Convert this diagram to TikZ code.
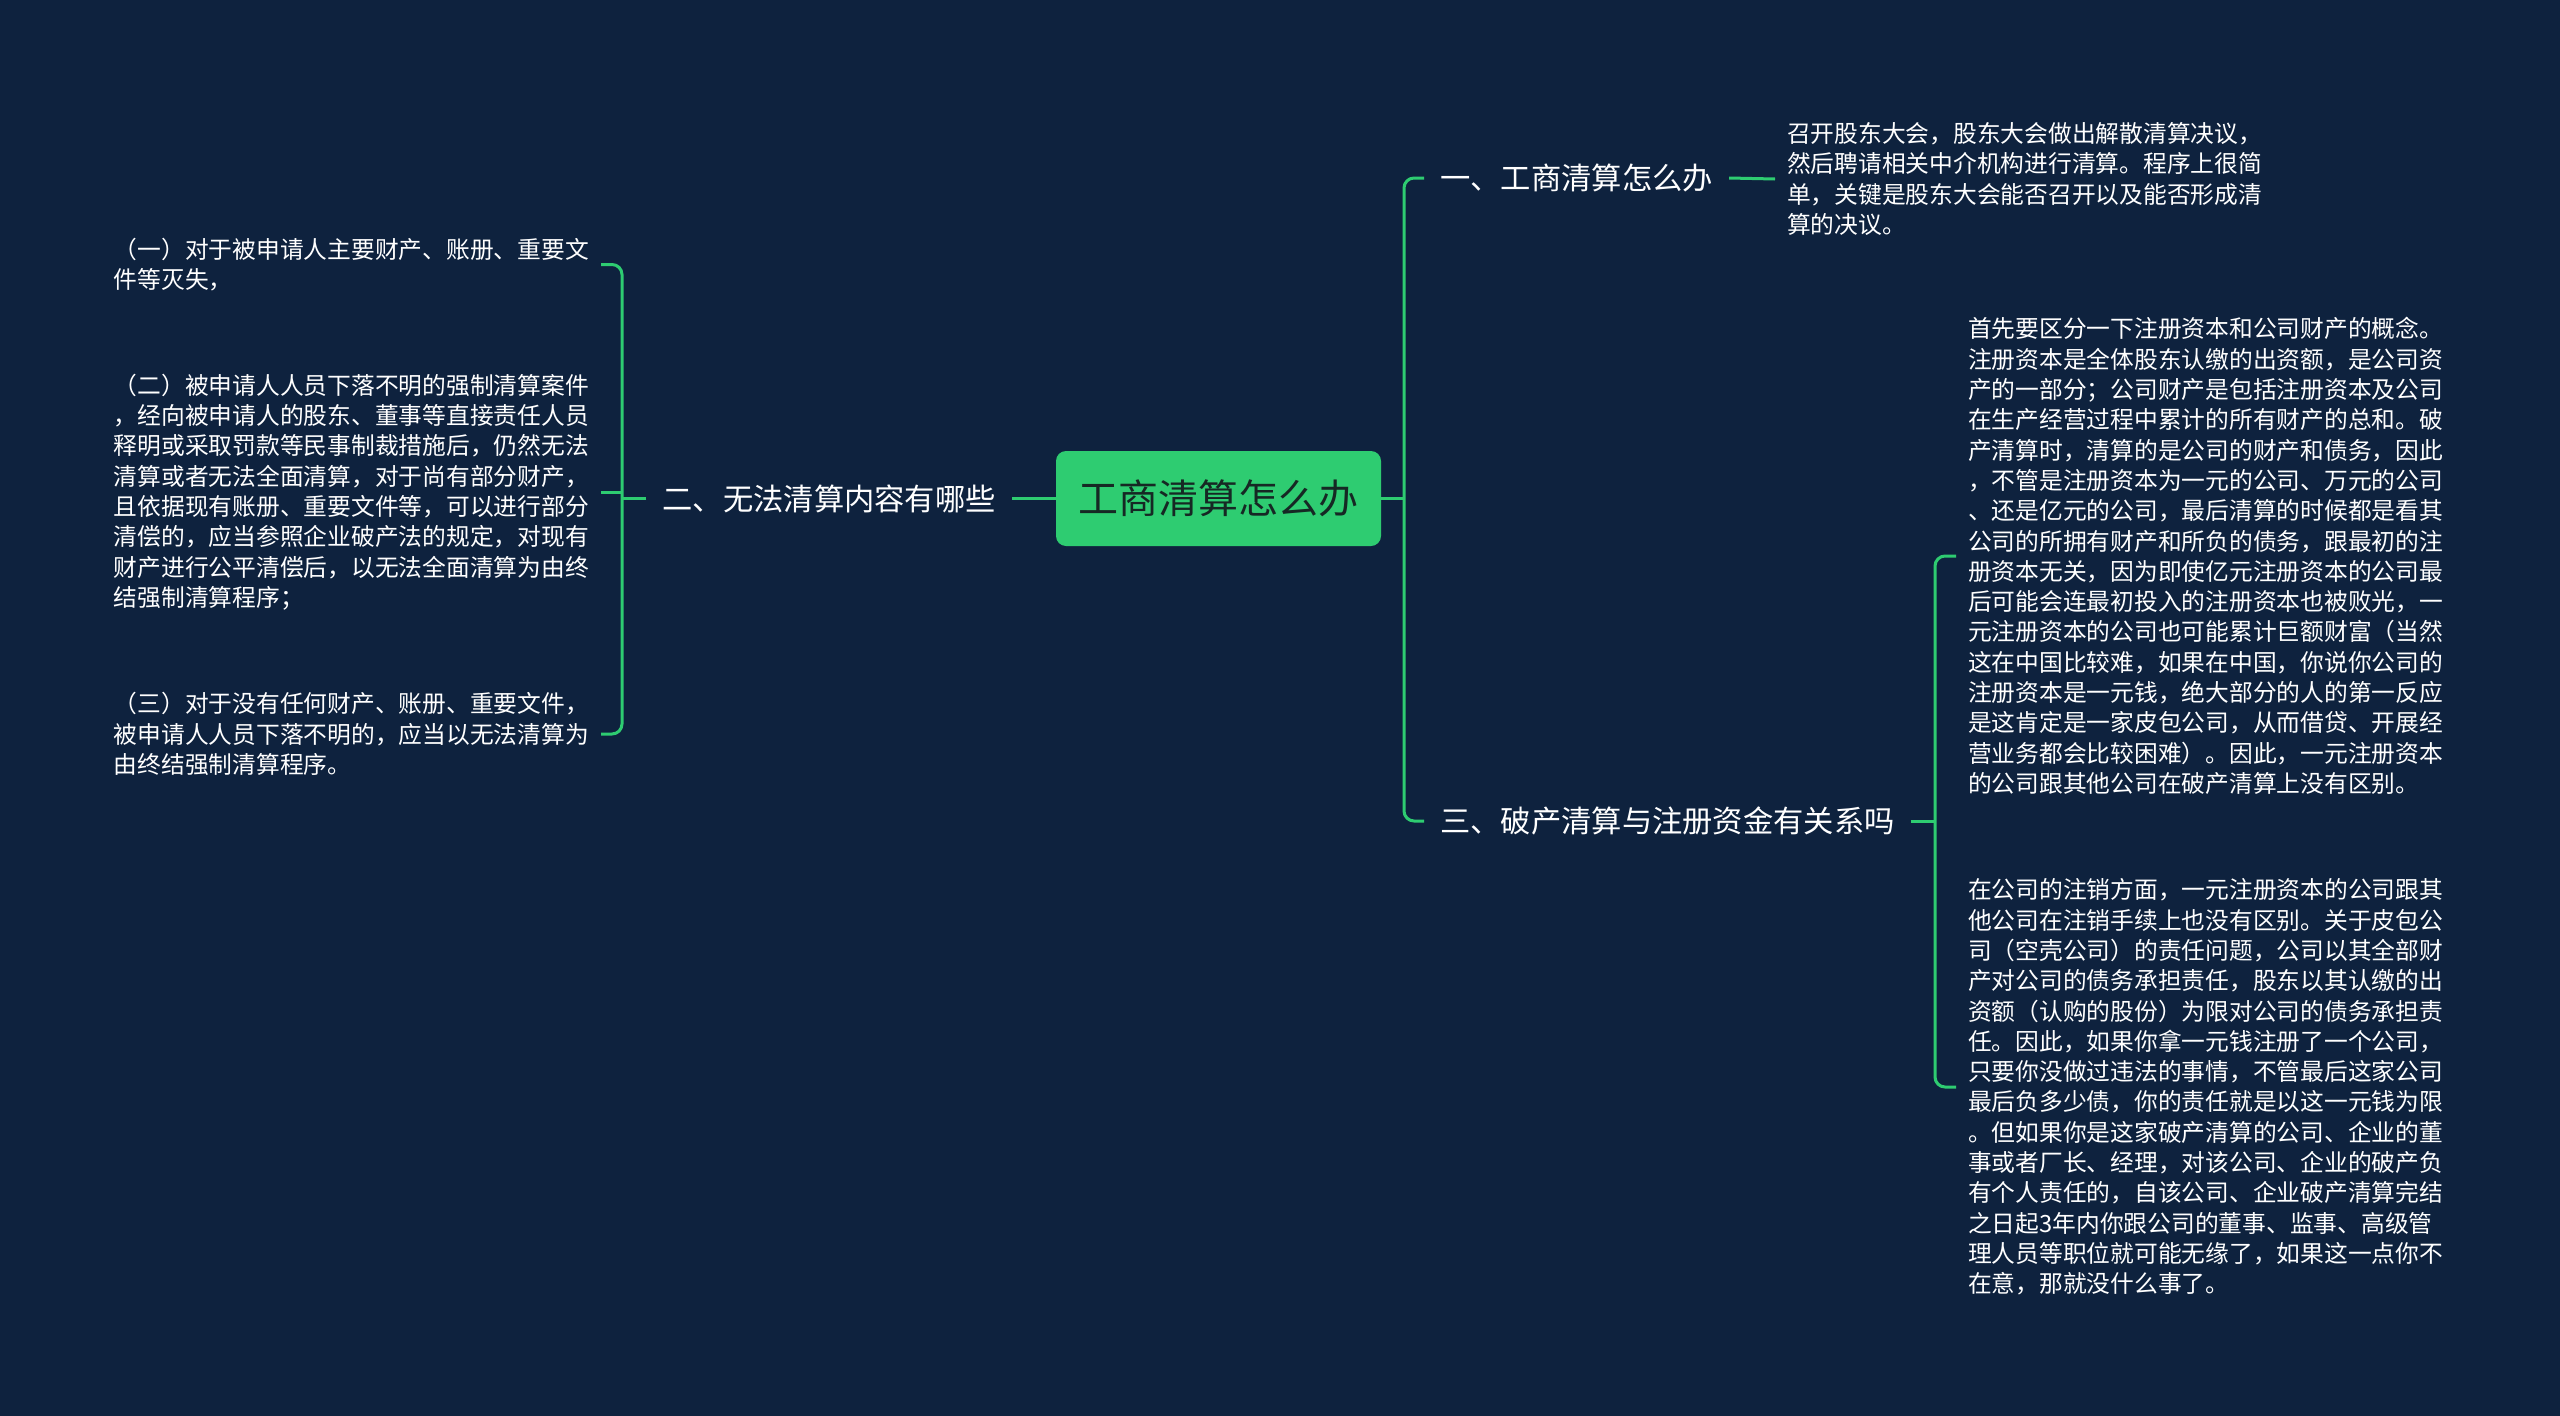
\documentclass[tikz,border=0pt]{standalone}
\usepackage{fontspec}
\setmainfont{Noto Sans CJK SC}
\definecolor{bg}{RGB}{14,34,62}
\definecolor{gr}{RGB}{46,204,113}
\definecolor{rt}{RGB}{22,40,36}
\begin{document}
\begin{tikzpicture}[x=1pt,y=-1pt,
  conn/.style={draw=gr,line width=3pt,rounded corners=10pt},
  leaf/.style={text=white,font=\fontsize{23.75}{30.3}\selectfont,align=left,inner ysep=0pt,inner xsep=12pt},
  branch/.style={text=white,font=\fontsize{30.3}{36}\selectfont,inner ysep=0pt,inner xsep=16pt},
  rootbox/.style={fill=gr,rounded corners=10pt,minimum width=325pt,minimum height=95pt,inner sep=0pt,text=rt,font=\fontsize{40}{48}\selectfont}]
\fill[bg] (0,0) rectangle (2560,1416);
\useasboundingbox (0,0) rectangle (2560,1416);

\node[rootbox] (root) at (1218.5,498.5) {工商清算怎么办};
\node[branch,anchor=east] (n2) at (1012,498.5) {二、无法清算内容有哪些};
\node[branch,anchor=west] (n1) at (1424,178) {一、工商清算怎么办};
\node[branch,anchor=west] (n3) at (1424,821) {三、破产清算与注册资金有关系吗};

\node[leaf,anchor=east] (a1) at (601,264.5) {（一）对于被申请人主要财产、账册、重要文\\件等灭失，};
\node[leaf,anchor=east] (a2) at (601,492) {（二）被申请人人员下落不明的强制清算案件\\，经向被申请人的股东、董事等直接责任人员\\释明或采取罚款等民事制裁措施后，仍然无法\\清算或者无法全面清算，对于尚有部分财产，\\且依据现有账册、重要文件等，可以进行部分\\清偿的，应当参照企业破产法的规定，对现有\\财产进行公平清偿后，以无法全面清算为由终\\结强制清算程序；};
\node[leaf,anchor=east] (a3) at (601,734) {（三）对于没有任何财产、账册、重要文件，\\被申请人人员下落不明的，应当以无法清算为\\由终结强制清算程序。};

\node[leaf,anchor=west] (b1) at (1775,179) {召开股东大会，股东大会做出解散清算决议，\\然后聘请相关中介机构进行清算。程序上很简\\单，关键是股东大会能否召开以及能否形成清\\算的决议。};

\node[leaf,anchor=west] (c1) at (1956,556) {首先要区分一下注册资本和公司财产的概念。\\注册资本是全体股东认缴的出资额，是公司资\\产的一部分；公司财产是包括注册资本及公司\\在生产经营过程中累计的所有财产的总和。破\\产清算时，清算的是公司的财产和债务，因此\\，不管是注册资本为一元的公司、万元的公司\\、还是亿元的公司，最后清算的时候都是看其\\公司的所拥有财产和所负的债务，跟最初的注\\册资本无关，因为即使亿元注册资本的公司最\\后可能会连最初投入的注册资本也被败光，一\\元注册资本的公司也可能累计巨额财富（当然\\这在中国比较难，如果在中国，你说你公司的\\注册资本是一元钱，绝大部分的人的第一反应\\是这肯定是一家皮包公司，从而借贷、开展经\\营业务都会比较困难）。因此，一元注册资本\\的公司跟其他公司在破产清算上没有区别。};

\node[leaf,anchor=west] (c2) at (1956,1087) {在公司的注销方面，一元注册资本的公司跟其\\他公司在注销手续上也没有区别。关于皮包公\\司（空壳公司）的责任问题，公司以其全部财\\产对公司的债务承担责任，股东以其认缴的出\\资额（认购的股份）为限对公司的债务承担责\\任。因此，如果你拿一元钱注册了一个公司，\\只要你没做过违法的事情，不管最后这家公司\\最后负多少债，你的责任就是以这一元钱为限\\。但如果你是这家破产清算的公司、企业的董\\事或者厂长、经理，对该公司、企业的破产负\\有个人责任的，自该公司、企业破产清算完结\\之日起3年内你跟公司的董事、监事、高级管\\理人员等职位就可能无缘了，如果这一点你不\\在意，那就没什么事了。};

\coordinate (lv) at (622,0);
\coordinate (rv) at (1404,0);
\coordinate (sv) at (1935,0);

\draw[conn] (root.west) -- (n2.east);
\draw[conn] (n2.west) -- (lv |- n2.west);
\draw[conn] (a1.east) -- (lv |- a1.east) -- (lv |- a3.east) -- (a3.east);
\draw[conn] (lv |- a2.east) -- (a2.east);

\draw[conn] (root.east) -- (rv |- root.east);
\draw[conn] (n1.west) -- (rv |- n1.west) -- (rv |- n3.west) -- (n3.west);
\draw[conn] (n1.east) -- (b1.west);
\draw[conn] (n3.east) -- (sv |- n3.east);
\draw[conn] (c1.west) -- (sv |- c1.west) -- (sv |- c2.west) -- (c2.west);
\end{tikzpicture}
\end{document}
